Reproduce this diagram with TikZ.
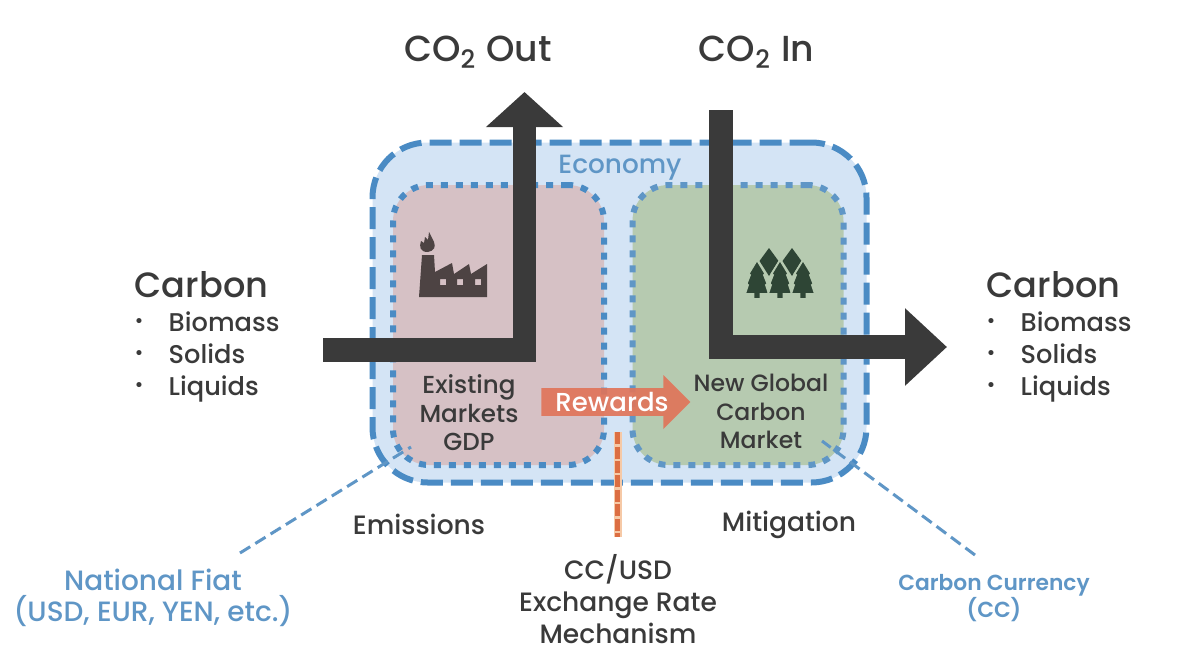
\documentclass[tikz,border=0pt]{standalone}
\usepackage{fontspec}
\setmainfont{Poppins Medium}[BoldFont=Poppins SemiBold]
\usepackage{xcolor}
\usetikzlibrary{positioning, arrows.meta, shapes.arrows}
\definecolor{darkflow}{HTML}{3A3A3A}
\definecolor{econblue}{HTML}{4A8BC4}
\definecolor{econfill}{HTML}{D4E4F5}
\definecolor{labelblue}{HTML}{5F96C6}
\definecolor{redfill}{HTML}{D6C1C5}
\definecolor{greenfill}{HTML}{B6CAB0}
\definecolor{rewardorange}{HTML}{E0755A}
\definecolor{exchangeorange}{HTML}{DC6E42}
\definecolor{exchangehalo}{HTML}{F6C9A6}
\definecolor{treegreen}{HTML}{2E4535}
\definecolor{factorygrey}{HTML}{4D4343}
\newcommand{\listitem}[1]{\makebox[0.34cm][l]{\fontsize{5.5}{5}\selectfont\raisebox{1pt}{•}}#1}
\begin{document}
\begin{tikzpicture}[
            x=1cm, y=-1cm,
            % --- Styles for the nodes ---
            econbox/.style={
                draw=econblue, fill=econfill, line width=0.06cm, rounded corners=0.55cm,
                dash pattern=on 0.22cm off 0.08cm, minimum width=4.94cm, minimum height=3.4cm
            },
            marketbox/.style={
                line width=0.06cm, rounded corners=0.36cm, dash pattern=on 0.07cm off 0.08cm,
                minimum width=2.11cm, minimum height=2.8cm
            },
            flow/.style={
                draw=darkflow, line width=0.235cm, miter limit=10, -{Triangle[length=0.35cm, width=0.75cm]}
            },
            heading/.style={font=\fontsize{10}{11}\selectfont, text=darkflow},
            carbonlist/.style={font=\fontsize{7.3}{9.1}\selectfont, text=darkflow, align=left, anchor=north west, inner sep=0pt},
            body/.style={font=\fontsize{7.55}{9.1}\selectfont, text=darkflow, align=center, inner sep=0pt},
            blueleader/.style={draw=labelblue, line width=0.03cm, dash pattern=on 0.12cm off 0.06cm}
        ]
        \useasboundingbox (0,0) rectangle (12,6.61);

        % --- Economy and the two markets ---
        \node[econbox] (economy) at (6.195,3.125) {};
        \node[marketbox, draw=econblue, fill=redfill] (existing) at (4.985,3.25) {};
        \node[marketbox, draw=labelblue, fill=greenfill] (newmarket) at (7.38,3.25) {};
        \node[font=\fontsize{7.5}{8}\selectfont, text=labelblue] (economylabel) at (6.2,1.68) {Economy};

        % --- Factory icon ---
        \fill[factorygrey, even odd rule] (4.19,2.97) -- (4.22,2.55) -- (4.34,2.55) -- (4.35,2.72) -- (4.52,2.63) -- (4.54,2.74)
            -- (4.69,2.64) -- (4.71,2.74) -- (4.87,2.64) -- (4.87,2.97) -- cycle
            (4.40,2.79) rectangle (4.46,2.85) (4.57,2.79) rectangle (4.63,2.85) (4.75,2.79) rectangle (4.81,2.85);
        \fill[factorygrey] (4.28,2.52) .. controls (4.20,2.52) and (4.19,2.47) .. (4.21,2.41)
            -- (4.24,2.43) -- (4.25,2.37) -- (4.28,2.40) -- (4.29,2.32) -- (4.32,2.38) -- (4.34,2.42)
            .. controls (4.36,2.47) and (4.34,2.51) .. (4.28,2.52) -- cycle;

        % --- Tree icon ---
        \foreach \treex in {7.69,7.92} {
            \fill[treegreen] (\treex,2.48) -- (\treex+0.095,2.61) -- (\treex,2.76) -- (\treex-0.095,2.61) -- cycle;
        }
        \foreach \treex in {7.57,7.80,8.03} {
            \filldraw[fill=treegreen, draw=greenfill, line width=0.018cm] (\treex,2.60) -- (\treex+0.085,2.74) -- (\treex+0.07,2.75) -- (\treex+0.105,2.84) -- (\treex+0.09,2.85) -- (\treex+0.12,2.94) -- (\treex+0.035,2.94)
                -- (\treex+0.035,2.99) -- (\treex-0.035,2.99) -- (\treex-0.035,2.94) -- (\treex-0.12,2.94) -- (\treex-0.09,2.85) -- (\treex-0.105,2.84) -- (\treex-0.07,2.75) -- (\treex-0.085,2.74) -- cycle;
        }

        % --- Carbon flows ---
        \coordinate (outstart) at (3.23,3.5);
        \coordinate (outbend) at (5.245,3.5);
        \coordinate (outend) at (5.245,0.92);
        \coordinate (instart) at (7.21,1.1);
        \coordinate (inbend) at (7.21,3.47);
        \coordinate (inend) at (9.47,3.47);
        \draw[flow] (outstart) -- (outbend) -- (outend);
        \draw[flow, -{Triangle[length=0.42cm, width=0.75cm]}] (instart) -- (inbend) -- (inend);

        % --- Rewards arrow ---
        \node[single arrow, fill=rewardorange, fill opacity=0.92, text opacity=1, text=white, inner sep=0pt,
            minimum height=1.49cm, minimum width=0.54cm, single arrow head extend=0.1cm, single arrow head indent=0cm,
            font=\fontsize{7.4}{8}\selectfont] (rewards) at (6.09,4.02) {\hspace*{0.06cm}Rewards};

        % --- Market labels ---
        \node[body, font=\fontsize{7}{8.1}\selectfont] (existinglabel) at (4.69,4.13) {Existing\\Markets\\GDP};
        \node[body, font=\fontsize{6.7}{8.1}\selectfont] (newlabel) at (7.61,4.115) {New Global\\Carbon\\Market};
        \node[body] (emissions) at (4.19,5.24) {Emissions};
        \node[body] (mitigation) at (7.89,5.25) {Mitigation};

        % --- Exchange rate mechanism ---
        \node[body] (exchange) at (6.18,5.99) {CC/USD\\Exchange Rate\\Mechanism};
        \coordinate (exchangetop) at (6.175,4.32);
        \coordinate (exchangeend) at (6.175,5.37);
        \draw[draw=exchangehalo, line width=0.08cm] (exchangetop) -- (exchangeend);
        \draw[draw=exchangeorange, line width=0.055cm, dash pattern=on 0.12cm off 0.025cm] (exchangetop) -- (exchangeend);

        % --- Currencies ---
        \node[body, font=\fontsize{7.95}{8.9}\selectfont, text=labelblue] (fiat) at (1.53,5.98) {National Fiat\\(USD, EUR, YEN, etc.)};
        \node[body, font=\fontsize{6.2}{7.7}\bfseries\selectfont, text=labelblue] (currency) at (9.94,5.98) {Carbon Currency\\(CC)};
        \coordinate (fiatend) at (2.40,5.53);
        \coordinate (fiatinner) at (4.11,4.47);
        \coordinate (currencyend) at (9.75,5.55);
        \coordinate (currencyinner) at (8.22,4.41);
        \draw[blueleader] (fiatend) -- (fiatinner);
        \draw[blueleader] (currencyend) -- (currencyinner);

        % --- Headings ---
        \node[heading, font=\fontsize{10.3}{11}\selectfont] (co2out) at (4.78,0.52) {CO\textsubscript{2} Out};
        \node[heading, font=\fontsize{10.3}{11}\selectfont] (co2in) at (7.565,0.52) {CO\textsubscript{2} In};
        \foreach \side/\xpos in {left/1.34, right/9.86} {
            \node[heading, anchor=west, inner sep=0pt] (carbon\side) at (\xpos,2.85) {Carbon};
            \node[carbonlist] (list\side) at (\xpos,3.11) {\listitem{Biomass}\\\listitem{Solids}\\\listitem{Liquids}};
        }
\end{tikzpicture}
\end{document}
